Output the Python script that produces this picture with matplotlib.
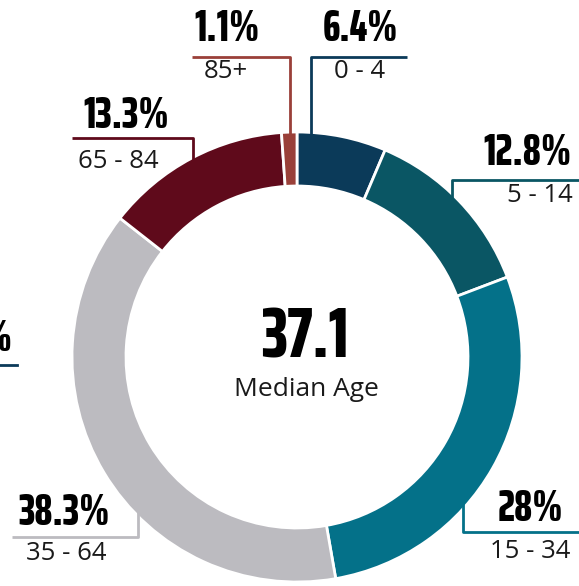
import matplotlib
matplotlib.use('Agg')
import matplotlib.pyplot as plt

# age groups, clockwise from 12 o'clock
groups = ['0 - 4', '5 - 14', '15 - 34', '35 - 64', '65 - 84', '85+']
shares = [6.4, 12.8, 28, 38.3, 13.3, 1.1]
pct_text = ['6.4%', '12.8%', '28%', '38.3%', '13.3%', '1.1%']
colors = ['#0b3a59', '#0a5664', '#047189', '#bcbbc0', '#5f0a1b', '#9a4039']
median_age = 37.1

W, H = 579, 586
CX, CY, R = 297, 357, 225

# callout layout (pixels): pct centre, group label centre, leader polyline
callouts = [
    ((360, 29), (360, 72), [(407, 57), (311, 57), (311, 136)]),
    ((527, 153), (540, 196), [(579, 180), (452, 180), (452, 200)]),
    ((530, 509), (530, 552), [(579, 532), (463, 532), (463, 500)]),
    ((64, 513), (66, 554), [(12, 537), (138, 537), (138, 510)]),
    ((126, 116), (118, 162), [(72, 138), (193, 138), (193, 165)]),
    ((227, 29), (226, 72), [(192, 57), (290, 57), (290, 134)]),
]

big = ['Saira ExtraCondensed', 'DejaVu Sans']
small = ['Open Sans', 'DejaVu Sans']

fig = plt.figure(figsize=(W / 100, H / 100), dpi=100)
ax = fig.add_axes([0, 0, 1, 1])

# y axis inverted -> counterclock in data space reads clockwise on screen
ax.pie(shares, colors=colors, radius=R, center=(CX, CY), startangle=-90,
       counterclock=True,
       wedgeprops=dict(width=R * 0.24, edgecolor='white', linewidth=2))
ax.set_xlim(0, W)
ax.set_ylim(H, 0)
ax.set_aspect('equal')
ax.axis('off')

for i, (pc, gc, line) in enumerate(callouts):
    xs = [p[0] for p in line]
    ys = [p[1] for p in line]
    ax.plot(xs, ys, color=colors[i], lw=2, solid_capstyle='butt', zorder=1)
    ax.text(pc[0], pc[1], pct_text[i], family=big, weight=800, fontsize=32,
            ha='center', va='center', color='black')
    ax.text(gc[0], gc[1], groups[i], family=small, fontsize=18.5,
            ha='center', va='center', color='#1a1a1a')

# clipped label from a neighbouring panel at the left edge
ax.text(13, 339, '2.1%', family=big, weight=800, fontsize=32,
        ha='right', va='center', color='black')
ax.plot([0, 17], [365, 365], color='#0b3a59', lw=2)

ax.text(305, 338, str(median_age), family=big, weight=800, fontsize=51,
        ha='center', va='center', color='black')
ax.text(306, 390, 'Median Age', family=small, fontsize=19,
        ha='center', va='center', color='#1a1a1a')

fig.savefig('out.png', dpi=100)
